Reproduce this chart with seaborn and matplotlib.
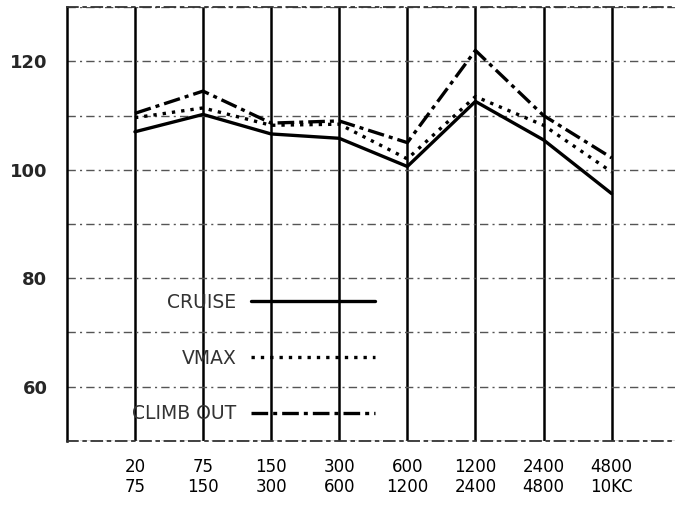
import numpy as np
import pandas as pd
import matplotlib
matplotlib.use('Agg')
import matplotlib.pyplot as plt
import seaborn as sns


# Bandes de fréquence (deux lignes par étiquette)
bandes = ['20\n75', '75\n150', '150\n300', '300\n600',
          '600\n1200', '1200\n2400', '2400\n4800', '4800\n10KC']

# Niveaux
cruise = [107.0, 110.2, 106.6, 105.8, 100.6, 112.6, 105.5, 95.6]
vmax = [109.6, 111.4, 108.2, 108.4, 102.0, 113.5, 108.2, 99.6]
climb_out = [110.4, 114.5, 108.6, 109.0, 105.0, 122.0, 110.0, 102.2]

series = ['CRUISE', 'VMAX', 'CLIMB OUT']
y_ticks = [50, 60, 70, 80, 90, 100, 110, 120, 130]
y_labels = ['', '60', '', '80', '', '100', '', '120', '']


###########################################################

df = pd.DataFrame({
    'bande': bandes * 3,
    'niveau': cruise + vmax + climb_out,
    'condition': [s for s in series for _ in bandes],
})

sns.set_style('white')
plt.rcParams['font.family'] = ['DejaVu Sans']

fig = plt.figure(figsize=(6.75, 5.05), dpi=100)
ax = fig.add_axes([0.099, 0.127, 0.908, 0.859])

sns.lineplot(data=df, x='bande', y='niveau', hue='condition', style='condition',
             hue_order=series, style_order=series,
             palette=['black', 'black', 'black'],
             dashes={'CRUISE': '', 'VMAX': (1, 1.8), 'CLIMB OUT': (5, 1.5, 1.2, 1.5)},
             linewidth=2.4, sort=False, legend=True, ax=ax, zorder=5)

ax.set_xlim(-1, 8)
ax.set_ylim(50, 130)
ax.set_yticks(y_ticks)
ax.set_yticklabels(y_labels, fontsize=13, fontweight='bold')
ax.tick_params(axis='y', length=0, pad=14)
ax.tick_params(axis='x', length=0, pad=12, labelsize=12, labelcolor='black')
ax.set_xlabel('')
ax.set_ylabel('')

# Quadrillage : verticales pleines, horizontales pointillées
grid_style = (0, (6, 3, 1.5, 3))
ax.grid(axis='x', color='black', linewidth=1.8, linestyle='-')
ax.grid(axis='y', color='#555555', linewidth=1.0, linestyle=grid_style)
ax.spines['right'].set_visible(False)
for side in ['top', 'bottom']:
    ax.spines[side].set_color('#333333')
    ax.spines[side].set_linewidth(1.3)
    ax.spines[side].set_linestyle(grid_style)
ax.spines['left'].set_color('black')
ax.spines['left'].set_linewidth(1.8)

handles, labels = ax.get_legend_handles_labels()
leg = ax.legend(handles, labels, loc='lower left', bbox_to_anchor=(0.079, 0.002),
                frameon=False, markerfirst=False, handlelength=6.6,
                handletextpad=0.8, labelspacing=1.95, fontsize=13.5)
for h in leg.get_lines():
    h.set_linewidth(2.4)
    h.set_color('black')
for t in leg.get_texts():
    t.set_color('#333333')

fig.savefig('out.png', dpi=100)
